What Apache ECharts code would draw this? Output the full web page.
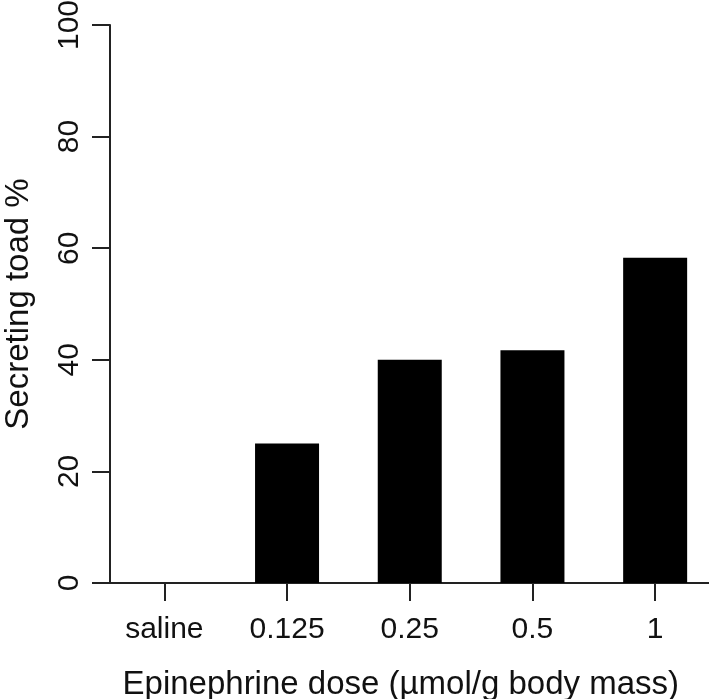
<!DOCTYPE html>
<html>
<head>
<meta charset="utf-8">
<script src="https://cdn.jsdelivr.net/npm/echarts@6/dist/echarts.min.js"></script>
<style>
html,body{margin:0;padding:0;background:#fff;}
#chart{width:709px;height:699px;}
</style>
</head>
<body>
<div id="chart"></div>
<script>
const categories = ["saline", "0.125", "0.25", "0.5", "1"];
const secretingPct = [0, 25, 40, 41.7, 58.3];
const yTicks = [0, 20, 40, 60, 80, 100];
const xTitle = "Epinephrine dose (\u00b5mol/g body mass)";
const yTitle = "Secreting toad %";

const lineColor = "#222";
const chart = echarts.init(document.getElementById("chart"), null, {renderer: "canvas"});
chart.setOption({
  animation: false,
  backgroundColor: "#fff",
  grid: {left: 103, right: -7.5, top: 25, bottom: 116, containLabel: false, outerBoundsMode: "none"},
  xAxis: {
    type: "category",
    data: categories,
    boundaryGap: true,
    axisLine: {show: true, lineStyle: {color: lineColor, width: 2}},
    axisTick: {show: true, alignWithLabel: true, length: 18, lineStyle: {color: lineColor, width: 2}},
    axisLabel: {color: "#111", fontFamily: "Liberation Sans, Arial, sans-serif", fontSize: 30, margin: 32},
    name: xTitle,
    nameLocation: "middle",
    nameGap: 85,
    nameTextStyle: {color: "#111", fontFamily: "Liberation Sans, Arial, sans-serif", fontSize: 33, padding: [0, 18, 0, 0]}
  },
  yAxis: {
    type: "value",
    min: yTicks[0],
    max: yTicks[yTicks.length - 1],
    interval: yTicks[1] - yTicks[0],
    offset: -7,
    splitLine: {show: false},
    axisLine: {show: true, lineStyle: {color: lineColor, width: 2}},
    axisTick: {show: true, length: 18, lineStyle: {color: lineColor, width: 2}},
    axisLabel: {color: "#111", fontFamily: "Liberation Sans, Arial, sans-serif", fontSize: 30, rotate: 90, margin: 25},
    name: yTitle,
    nameLocation: "middle",
    nameGap: 75,
    nameTextStyle: {color: "#111", fontFamily: "Liberation Sans, Arial, sans-serif", fontSize: 33}
  },
  series: [{
    type: "bar",
    data: secretingPct,
    barWidth: 64,
    itemStyle: {color: "#000"}
  }]
});
</script>
</body>
</html>
